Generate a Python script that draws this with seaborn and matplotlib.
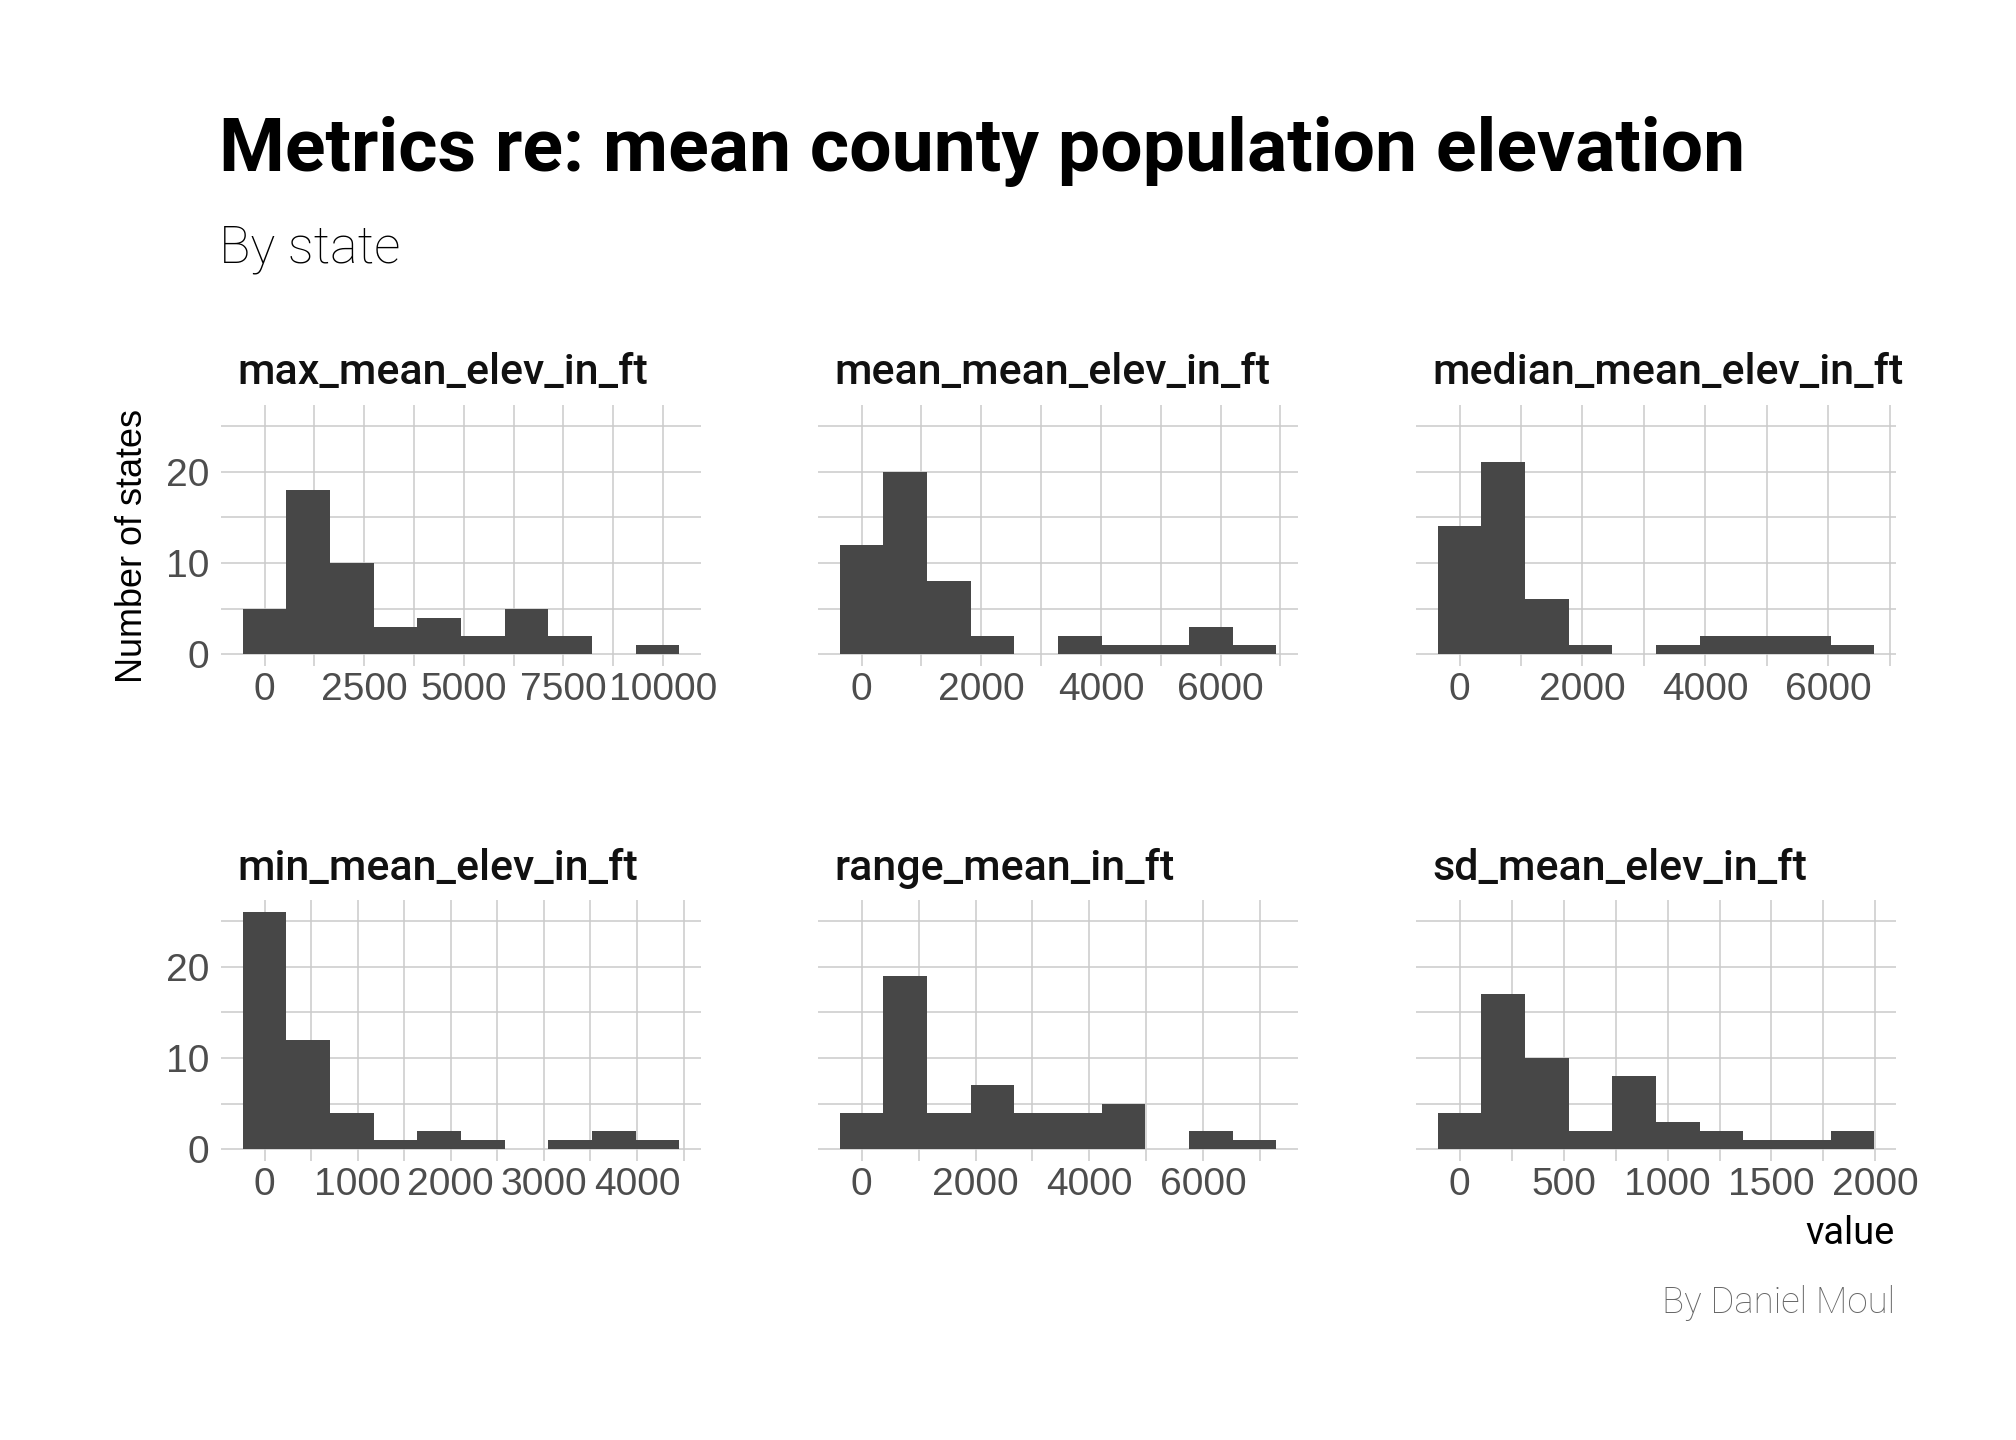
import numpy as np
import pandas as pd
import seaborn as sns
import matplotlib.pyplot as plt
from matplotlib.ticker import AutoMinorLocator, FixedLocator

# histogram counts (10 bins per metric)
metrics = ["max_mean_elev_in_ft", "mean_mean_elev_in_ft", "median_mean_elev_in_ft",
           "min_mean_elev_in_ft", "range_mean_in_ft", "sd_mean_elev_in_ft"]
counts_max = [5, 18, 10, 3, 4, 2, 5, 2, 0, 1]
counts_mean = [12, 20, 8, 2, 0, 2, 1, 1, 3, 1]
counts_median = [14, 21, 6, 1, 0, 1, 2, 2, 2, 1]
counts_min = [26, 12, 4, 1, 2, 1, 0, 1, 2, 1]
counts_range = [4, 19, 4, 7, 4, 4, 5, 0, 2, 1]
counts_sd = [4, 17, 10, 2, 8, 3, 2, 1, 1, 2]
# centre of the first and last bin for each metric (ft)
first_center = [0, 0, 0, 0, 0, 0]
last_center = [9860, 6564, 6393, 4219, 6897, 1889]
# x tick labels per facet
xticks_max = [0, 2500, 5000, 7500, 10000]
xticks_mean = [0, 2000, 4000, 6000]
xticks_median = [0, 2000, 4000, 6000]
xticks_min = [0, 1000, 2000, 3000, 4000]
xticks_range = [0, 2000, 4000, 6000]
xticks_sd = [0, 500, 1000, 1500, 2000]
yticks = [0, 10, 20]

all_counts = [counts_max, counts_mean, counts_median, counts_min, counts_range, counts_sd]
all_xticks = [xticks_max, xticks_mean, xticks_median, xticks_min, xticks_range, xticks_sd]

rows = []
for m, c, lo, hi in zip(metrics, all_counts, first_center, last_center):
    centers = np.linspace(lo, hi, len(c))
    for x, n in zip(centers, c):
        rows.append({"metric": m, "value": x, "n": n})
df = pd.DataFrame(rows)

sns.set_theme(style="white")
plt.rcParams['font.family'] = ['Liberation Sans', 'DejaVu Sans']
plt.rcParams['text.color'] = 'black'
TITLE_FONT = ['Roboto', 'DejaVu Sans']
BAR = "#474747"
GRID = "#cccccc"
TICK = "#4d4d4d"


def draw_hist(data, **kws):
    ax = plt.gca()
    c = data["value"].to_numpy()
    w = c[1] - c[0]
    sns.histplot(data=data, x="value", weights="n", binwidth=w,
                 binrange=(c[0] - w / 2, c[-1] + w / 2), ax=ax,
                 color=BAR, alpha=1, edgecolor="none", linewidth=0)


g = sns.FacetGrid(df, col="metric", col_wrap=3, sharex=False, sharey=True,
                  col_order=metrics)
g.map_dataframe(draw_hist)
fig = g.figure
fig.set_size_inches(14, 10)

W, H = 2016, 1440
lefts = [221, 818, 1416]
tops = [405, 900]
aw, ah = 480, 261

for i, (m, ax) in enumerate(zip(metrics, g.axes.flat)):
    r, col = divmod(i, 3)
    ax.set_position([lefts[col] / W, 1 - (tops[r] + ah) / H, aw / W, ah / H])
    c = df.loc[df.metric == m, "value"].to_numpy()
    w = c[1] - c[0]
    lo, hi = c[0] - w / 2, c[-1] + w / 2
    span = hi - lo
    ax.set_xlim(lo - 0.05 * span, hi + 0.05 * span)
    ax.set_ylim(-1.3, 27.3)
    ax.xaxis.set_major_locator(FixedLocator(all_xticks[i]))
    ax.xaxis.set_minor_locator(AutoMinorLocator(2))
    ax.yaxis.set_major_locator(FixedLocator(yticks))
    ax.yaxis.set_minor_locator(AutoMinorLocator(2))
    ax.grid(True, which="both", color=GRID, linewidth=0.8)
    ax.set_axisbelow(True)
    for s in ax.spines.values():
        s.set_visible(False)
    ax.tick_params(axis="both", which="both", length=0, labelsize=19.5, labelcolor=TICK)
    ax.tick_params(axis="x", pad=3)
    ax.tick_params(axis="y", pad=6)
    ax.set_title("")
    ax.set_xlabel("")
    ax.set_ylabel("")
    if col != 0:
        ax.tick_params(axis="y", labelleft=False)
    fig.text((lefts[col] + 16) / W, 1 - (tops[r] - 32) / H, m, fontsize=21.5,
             family=TITLE_FONT, weight="medium", color="#111111", va="center", ha="left")

fig.text(219 / W, 1 - 171 / H, "Metrics re: mean county population elevation",
         fontsize=37.6, family=TITLE_FONT, weight="bold", color="black",
         va="baseline", ha="left")
fig.text(219 / W, 1 - 262 / H, "By state", fontsize=26, family=TITLE_FONT,
         weight="light", va="baseline", ha="left")
fig.text(132 / W, 1 - 409 / H, "Number of states", fontsize=18, rotation=90,
         va="top", ha="center")
fig.text(1895 / W, 1 - 1233 / H, "value", fontsize=19, family=TITLE_FONT,
         va="center", ha="right")
fig.text(1895 / W, 1 - 1303 / H, "By Daniel Moul", fontsize=18.3, family=TITLE_FONT,
         weight="light", color="#666666", va="center", ha="right")

fig.savefig("out.png", dpi=144, facecolor="white")
